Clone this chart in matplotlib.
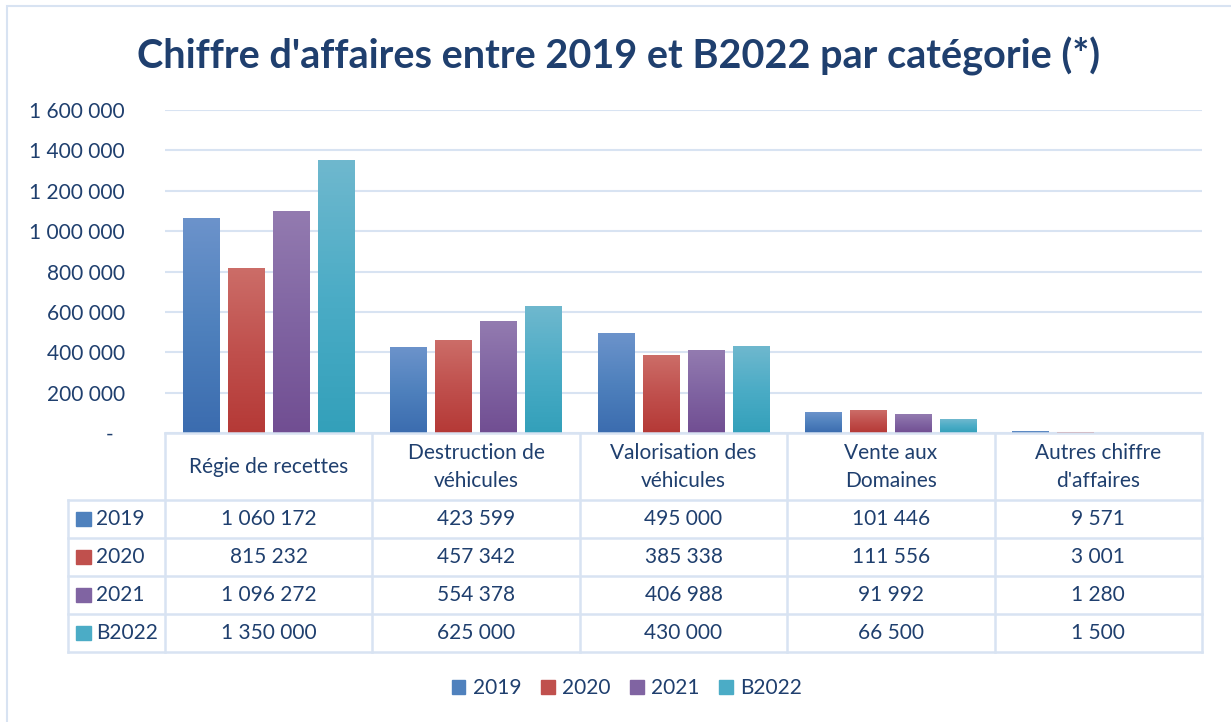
import numpy as np
import matplotlib.pyplot as plt
from matplotlib.patches import Rectangle, Patch
from matplotlib.colors import LinearSegmentedColormap

categories = ["Régie de recettes", "Destruction de\nvéhicules", "Valorisation des\nvéhicules",
              "Vente aux\nDomaines", "Autres chiffre\nd'affaires"]
series = ["2019", "2020", "2021", "B2022"]
v2019 = [1060172, 423599, 495000, 101446, 9571]
v2020 = [815232, 457342, 385338, 111556, 3001]
v2021 = [1096272, 554378, 406988, 91992, 1280]
vB2022 = [1350000, 625000, 430000, 66500, 1500]
values = [v2019, v2020, v2021, vB2022]
yticks = [0, 200000, 400000, 600000, 800000, 1000000, 1200000, 1400000, 1600000]

# (top, mid, bottom) colours of the Excel gradients
colors = [("#6c93cb", "#4f81bd", "#3b6caf"),
          ("#cc6d68", "#c0504d", "#b53936"),
          ("#937bb0", "#8064a2", "#714e92"),
          ("#6fb8ce", "#4bacc6", "#33a0ba")]
txt = "#1f3f6e"
grid_c = "#d8e3f2"

plt.rcParams['font.family'] = ['Lato', 'DejaVu Sans']

W, H = 1231, 722
fig = plt.figure(figsize=(W / 100, H / 100), dpi=100)


def fx(px):
    return px / W


def fy(py):
    return 1 - py / H


def fmt(v):
    return f"{v:,}".replace(",", " ")


# outer chart border
fig.patches.append(Rectangle((fx(7), fy(730)), fx(1240) - fx(7), fy(6) - fy(730),
                             transform=fig.transFigure, fill=False, ec=grid_c, lw=1.5))

fig.text(fx(619), fy(56), "Chiffre d'affaires entre 2019 et B2022 par catégorie (*)",
         ha='center', va='center', fontsize=28.5, fontweight='bold', color=txt)

# main bar axes
ax = fig.add_axes([fx(165), fy(433), fx(1202) - fx(165), fy(110) - fy(433)])
x = np.arange(len(categories))
step = 0.217
width = 0.178
grad = np.linspace(0, 1, 256).reshape(-1, 1)
for k, vals in enumerate(values):
    top, mid, bot = colors[k]
    bars = ax.bar(x + (k - 1.5) * step, vals, width, color=mid, zorder=2)
    cmap = LinearSegmentedColormap.from_list("g%d" % k, [bot, mid, top])
    for b in bars:
        x0, y0, w, h = b.get_x(), b.get_y(), b.get_width(), b.get_height()
        if h < 4000:
            continue
        ax.imshow(grad, extent=[x0, x0 + w, y0, y0 + h], origin='lower', cmap=cmap,
                  aspect='auto', zorder=3, interpolation='bilinear')

ax.set_xlim(-0.5, len(categories) - 0.5)
ax.set_ylim(0, 1600000)
ax.set_yticks(yticks)
ax.set_yticklabels([fmt(t) if t else "-  " for t in yticks], fontsize=15, color=txt)
ax.set_xticks([])
ax.tick_params(axis='y', length=0, pad=29)
ax.yaxis.grid(True, color=grid_c, lw=1.5)
ax.set_axisbelow(True)
for s in ax.spines.values():
    s.set_visible(False)

# data table below the plot
left_w = 97 / 207.4
tax = fig.add_axes([fx(68), fy(652), fx(1202) - fx(68), fy(433) - fy(652)])
tax.set_xlim(-0.5 - left_w, len(categories) - 0.5)
tax.set_ylim(652, 433)
tax.axis('off')
lkw = dict(color=grid_c, lw=1.8, clip_on=False)
row_y = [500, 538, 576, 614, 652]
tax.plot([-0.5, len(categories) - 0.5], [433, 433], **lkw)
for yy in row_y:
    tax.plot([-0.5 - left_w, len(categories) - 0.5], [yy, yy], **lkw)
for i in range(len(categories) + 1):
    tax.plot([i - 0.5, i - 0.5], [433, 652], **lkw)
tax.plot([-0.5 - left_w, -0.5 - left_w], [500, 652], **lkw)

for i, c in enumerate(categories):
    tax.text(i, 467, c, ha='center', va='center', fontsize=15, color=txt, linespacing=1.45)
for k, vals in enumerate(values):
    yc = (row_y[k] + row_y[k + 1]) / 2
    for i, v in enumerate(vals):
        tax.text(i, yc, fmt(v), ha='center', va='center', fontsize=15, color=txt)
    tax.add_patch(Rectangle((-0.5 - left_w + 8 / 207.4, yc - 7), 15 / 207.4, 14,
                            color=colors[k][1], clip_on=False))
    tax.text(-0.5 - left_w + 28 / 207.4, yc, series[k], ha='left', va='center',
             fontsize=15, color=txt)

handles = [Patch(color=colors[k][1]) for k in range(len(series))]
fig.legend(handles, series, loc='center', bbox_to_anchor=(fx(627), fy(688)), ncol=4,
           frameon=False, fontsize=15, labelcolor=txt, handlelength=0.65,
           handleheight=0.65, handletextpad=0.35, columnspacing=0.95)

fig.savefig("out.png", dpi=100)
